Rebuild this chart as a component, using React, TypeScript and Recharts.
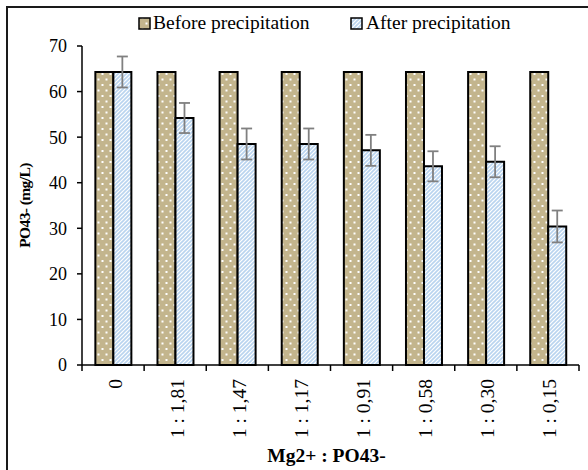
import React from 'react';
import { BarChart, Bar, XAxis, YAxis, ErrorBar, Legend } from 'recharts';

const categories = ['0', '1 : 1,81', '1 : 1,47', '1 : 1,17', '1 : 0,91', '1 : 0,58', '1 : 0,30', '1 : 0,15'];
const beforeValues = [64.3, 64.3, 64.3, 64.3, 64.3, 64.3, 64.3, 64.3];
const afterValues = [64.3, 54.2, 48.5, 48.5, 47.1, 43.6, 44.6, 30.4];
const afterErrors = [3.4, 3.3, 3.4, 3.4, 3.4, 3.3, 3.4, 3.5];
const yTicks = [0, 10, 20, 30, 40, 50, 60, 70];
const seriesNames = ['Before precipitation', 'After precipitation'];
const yTitle = 'PO43- (mg/L)';
const xTitle = 'Mg2+ : PO43-';

const data = categories.map((c, i) => ({
  cat: c,
  before: beforeValues[i],
  after: afterValues[i],
  err: afterErrors[i],
}));

const FONT = '"Liberation Serif", "Times New Roman", serif';
const KHAKI = '#c3b58d';
const BLUE = '#b9d4ef';

const Patterns = () => (
  <svg width={0} height={0} style={{ position: 'absolute' }}>
    <defs>
      <pattern id="dotsPat" width="8" height="11" patternUnits="userSpaceOnUse">
        <rect width="8" height="11" fill={KHAKI} />
        <rect x="1.5" y="1.5" width="2" height="2" fill="#ffffff" />
        <rect x="5.5" y="7" width="2" height="2" fill="#ffffff" />
      </pattern>
      <pattern id="stripePat" width="4" height="4" patternUnits="userSpaceOnUse">
        <rect width="4" height="4" fill="#ffffff" />
        <path d="M-1,1 l2,-2 M0,4 l4,-4 M3,5 l2,-2" stroke={BLUE} strokeWidth="1.6" />
      </pattern>
    </defs>
  </svg>
);

const LegendContent = () => (
  <svg width={588} height={36} style={{ display: 'block' }}>
    <rect x={139} y={8} width={11} height={11} fill="url(#dotsPat)" stroke="#000" strokeWidth={1.5} />
    <text x={153} y={19} fontFamily={FONT} fontSize={19.5} fill="#000">{seriesNames[0]}</text>
    <rect x={351} y={8} width={11} height={11} fill="url(#stripePat)" stroke="#000" strokeWidth={1.5} />
    <text x={366} y={19} fontFamily={FONT} fontSize={19.5} fill="#000">{seriesNames[1]}</text>
  </svg>
);

const XTick = (props: any) => {
  const { x, y, payload, index } = props;
  const half = payload && typeof payload.offset === 'number' && payload.offset > 0 ? payload.offset : 31;
  const isLast = index === categories.length - 1;
  return (
    <g>
      <line x1={x - half} y1={y} x2={x - half} y2={y + 6} stroke="#000" strokeWidth={1.5} />
      {isLast && <line x1={x + half} y1={y} x2={x + half} y2={y + 6} stroke="#000" strokeWidth={1.5} />}
      <g transform={`translate(${x + 2}, ${y + 14}) rotate(-90)`}>
        <text x={0} y={0} textAnchor="end" dominantBaseline="central" fontFamily={FONT} fontSize={19.5} fill="#000">
          {payload.value}
        </text>
      </g>
    </g>
  );
};

export default function App() {
  return (
    <div style={{ position: 'absolute', left: 0, top: 0, width: 588, height: 470, overflow: 'hidden', background: '#fff' }}>
      <Patterns />
      <div style={{ position: 'absolute', left: 6, top: 6, width: 620, height: 520, border: '2px solid #1a1a1a' }} />
      <div style={{ position: 'absolute', left: 0, top: 0 }}>
        <BarChart
          width={588}
          height={470}
          data={data}
          margin={{ top: 10, right: 9, left: 0, bottom: 0 }}
          barGap={0}
          barCategoryGap="21.5%"
        >
          <Legend
            verticalAlign="top"
            content={<LegendContent />}
            wrapperStyle={{ top: 10, left: 0, width: 588, height: 36 }}
          />
          <XAxis
            dataKey="cat"
            height={105}
            interval={0}
            tickSize={0}
            tickMargin={0}
            axisLine={{ stroke: '#000', strokeWidth: 1.5 }}
            tickLine={false}
            tick={<XTick />}
            label={{
              value: xTitle,
              position: 'insideBottom',
              offset: 8,
              dx: -4,
              style: { fontFamily: FONT, fontSize: 19.5, fontWeight: 'bold', fill: '#000' },
            }}
          />
          <YAxis
            width={82}
            domain={[0, 70]}
            ticks={yTicks}
            interval={0}
            tickSize={5}
            tickMargin={10}
            axisLine={{ stroke: '#000', strokeWidth: 1.5 }}
            tickLine={{ stroke: '#000', strokeWidth: 1.5 }}
            tick={{ fontFamily: FONT, fontSize: 18, fill: '#000' }}
            label={{
              value: yTitle,
              angle: -90,
              position: 'insideLeft',
              offset: 24,
              style: { textAnchor: 'middle', fontFamily: FONT, fontSize: 15.5, letterSpacing: -0.6, fontWeight: 'bold', fill: '#000' },
            }}
          />
          <Bar
            dataKey="before"
            name={seriesNames[0]}
            fill="url(#dotsPat)"
            stroke="#000"
            strokeWidth={2}
            isAnimationActive={false}
          />
          <Bar
            dataKey="after"
            name={seriesNames[1]}
            fill="url(#stripePat)"
            stroke="#000"
            strokeWidth={2}
            isAnimationActive={false}
          >
            <ErrorBar dataKey="err" width={5.5} stroke="#808080" strokeWidth={1.8} direction="y" />
          </Bar>
        </BarChart>
      </div>
    </div>
  );
}
